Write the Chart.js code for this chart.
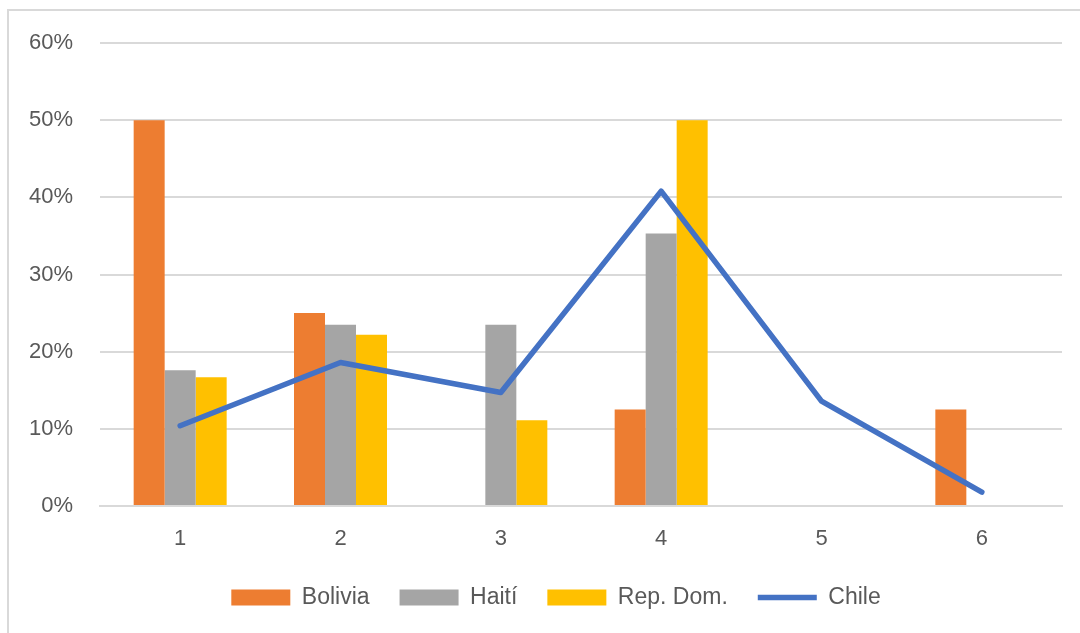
<!DOCTYPE html>
<html>
<head>
<meta charset="utf-8">
<script src="https://cdn.jsdelivr.net/npm/chart.js@4"></script>
<style>
  html, body { margin: 0; padding: 0; background: #fff; }
  #frame { position: absolute; left: 7px; top: 9px; width: 1200px; height: 700px; border-top: 2px solid #d9d9d9; border-left: 2px solid #d9d9d9; }
  #wrap { position: absolute; left: 0; top: 0; width: 1080px; height: 633px; }
</style>
</head>
<body>
<div id="frame"></div>
<div id="wrap"><canvas id="c" width="1080" height="633"></canvas></div>
<script>
const categories = ['1', '2', '3', '4', '5', '6'];
const bolivia = [50, 25, 0, 12.5, 0, 12.5];
const haiti = [17.6, 23.5, 23.5, 35.3, 0, 0];
const repDom = [16.7, 22.2, 11.1, 50, 0, 0];
const chile = [10.4, 18.6, 14.7, 40.8, 13.6, 1.8];
const seriesNames = ['Bolivia', 'Haití', 'Rep. Dom.', 'Chile'];

const FONT = "'Liberation Sans', Arial, sans-serif";
const TXT = '#595959';

const shiftLegend = {
  id: 'shiftLegend',
  afterLayout(chart) {
    if (chart.legend) { chart.legend.left += 50; }
  }
};

new Chart(document.getElementById('c'), {
  data: {
    labels: categories,
    datasets: [
      { type: 'line', label: seriesNames[3], data: chile, borderColor: '#4472C4', backgroundColor: '#4472C4',
        borderWidth: 5.5, pointRadius: 0, pointStyle: 'line', tension: 0, order: 0, borderJoinStyle: 'round', borderCapStyle: 'round' },
      { type: 'bar', label: seriesNames[0], data: bolivia, backgroundColor: '#ED7D31', borderWidth: 0, pointStyle: 'rect', order: 1 },
      { type: 'bar', label: seriesNames[1], data: haiti, backgroundColor: '#A5A5A5', borderWidth: 0, pointStyle: 'rect', order: 2 },
      { type: 'bar', label: seriesNames[2], data: repDom, backgroundColor: '#FFC000', borderWidth: 0, pointStyle: 'rect', order: 3 }
    ]
  },
  plugins: [shiftLegend],
  options: {
    responsive: false,
    animation: false,
    datasets: { bar: { categoryPercentage: 0.58, barPercentage: 1.0 } },
    layout: { padding: { left: 0, right: 18, top: 43, bottom: 14 } },
    scales: {
      x: {
        afterFit: (s) => { s.height = 50; },
        grid: { display: false, drawTicks: false },
        border: { display: true, color: '#d9d9d9', width: 2 },
        ticks: { color: TXT, font: { family: FONT, size: 22 }, padding: 20 }
      },
      y: {
        min: 0, max: 60,
        afterFit: (s) => { s.width = 100; },
        grid: { color: '#d9d9d9', lineWidth: 2, drawTicks: false },
        border: { display: false },
        ticks: { stepSize: 10, color: TXT, font: { family: FONT, size: 22 }, padding: 27,
          callback: (v) => v + '%' }
      }
    },
    plugins: {
      tooltip: { enabled: false },
      legend: {
        position: 'bottom',
        labels: {
          usePointStyle: true,
          pointStyleWidth: 59,
          boxHeight: 16,
          padding: 30,
          color: TXT,
          font: { family: FONT, size: 23 },
          sort: (a, b) => {
            const order = [1, 2, 3, 0];
            return order.indexOf(a.datasetIndex) - order.indexOf(b.datasetIndex);
          }
        }
      }
    }
  }
});
</script>
</body>
</html>
